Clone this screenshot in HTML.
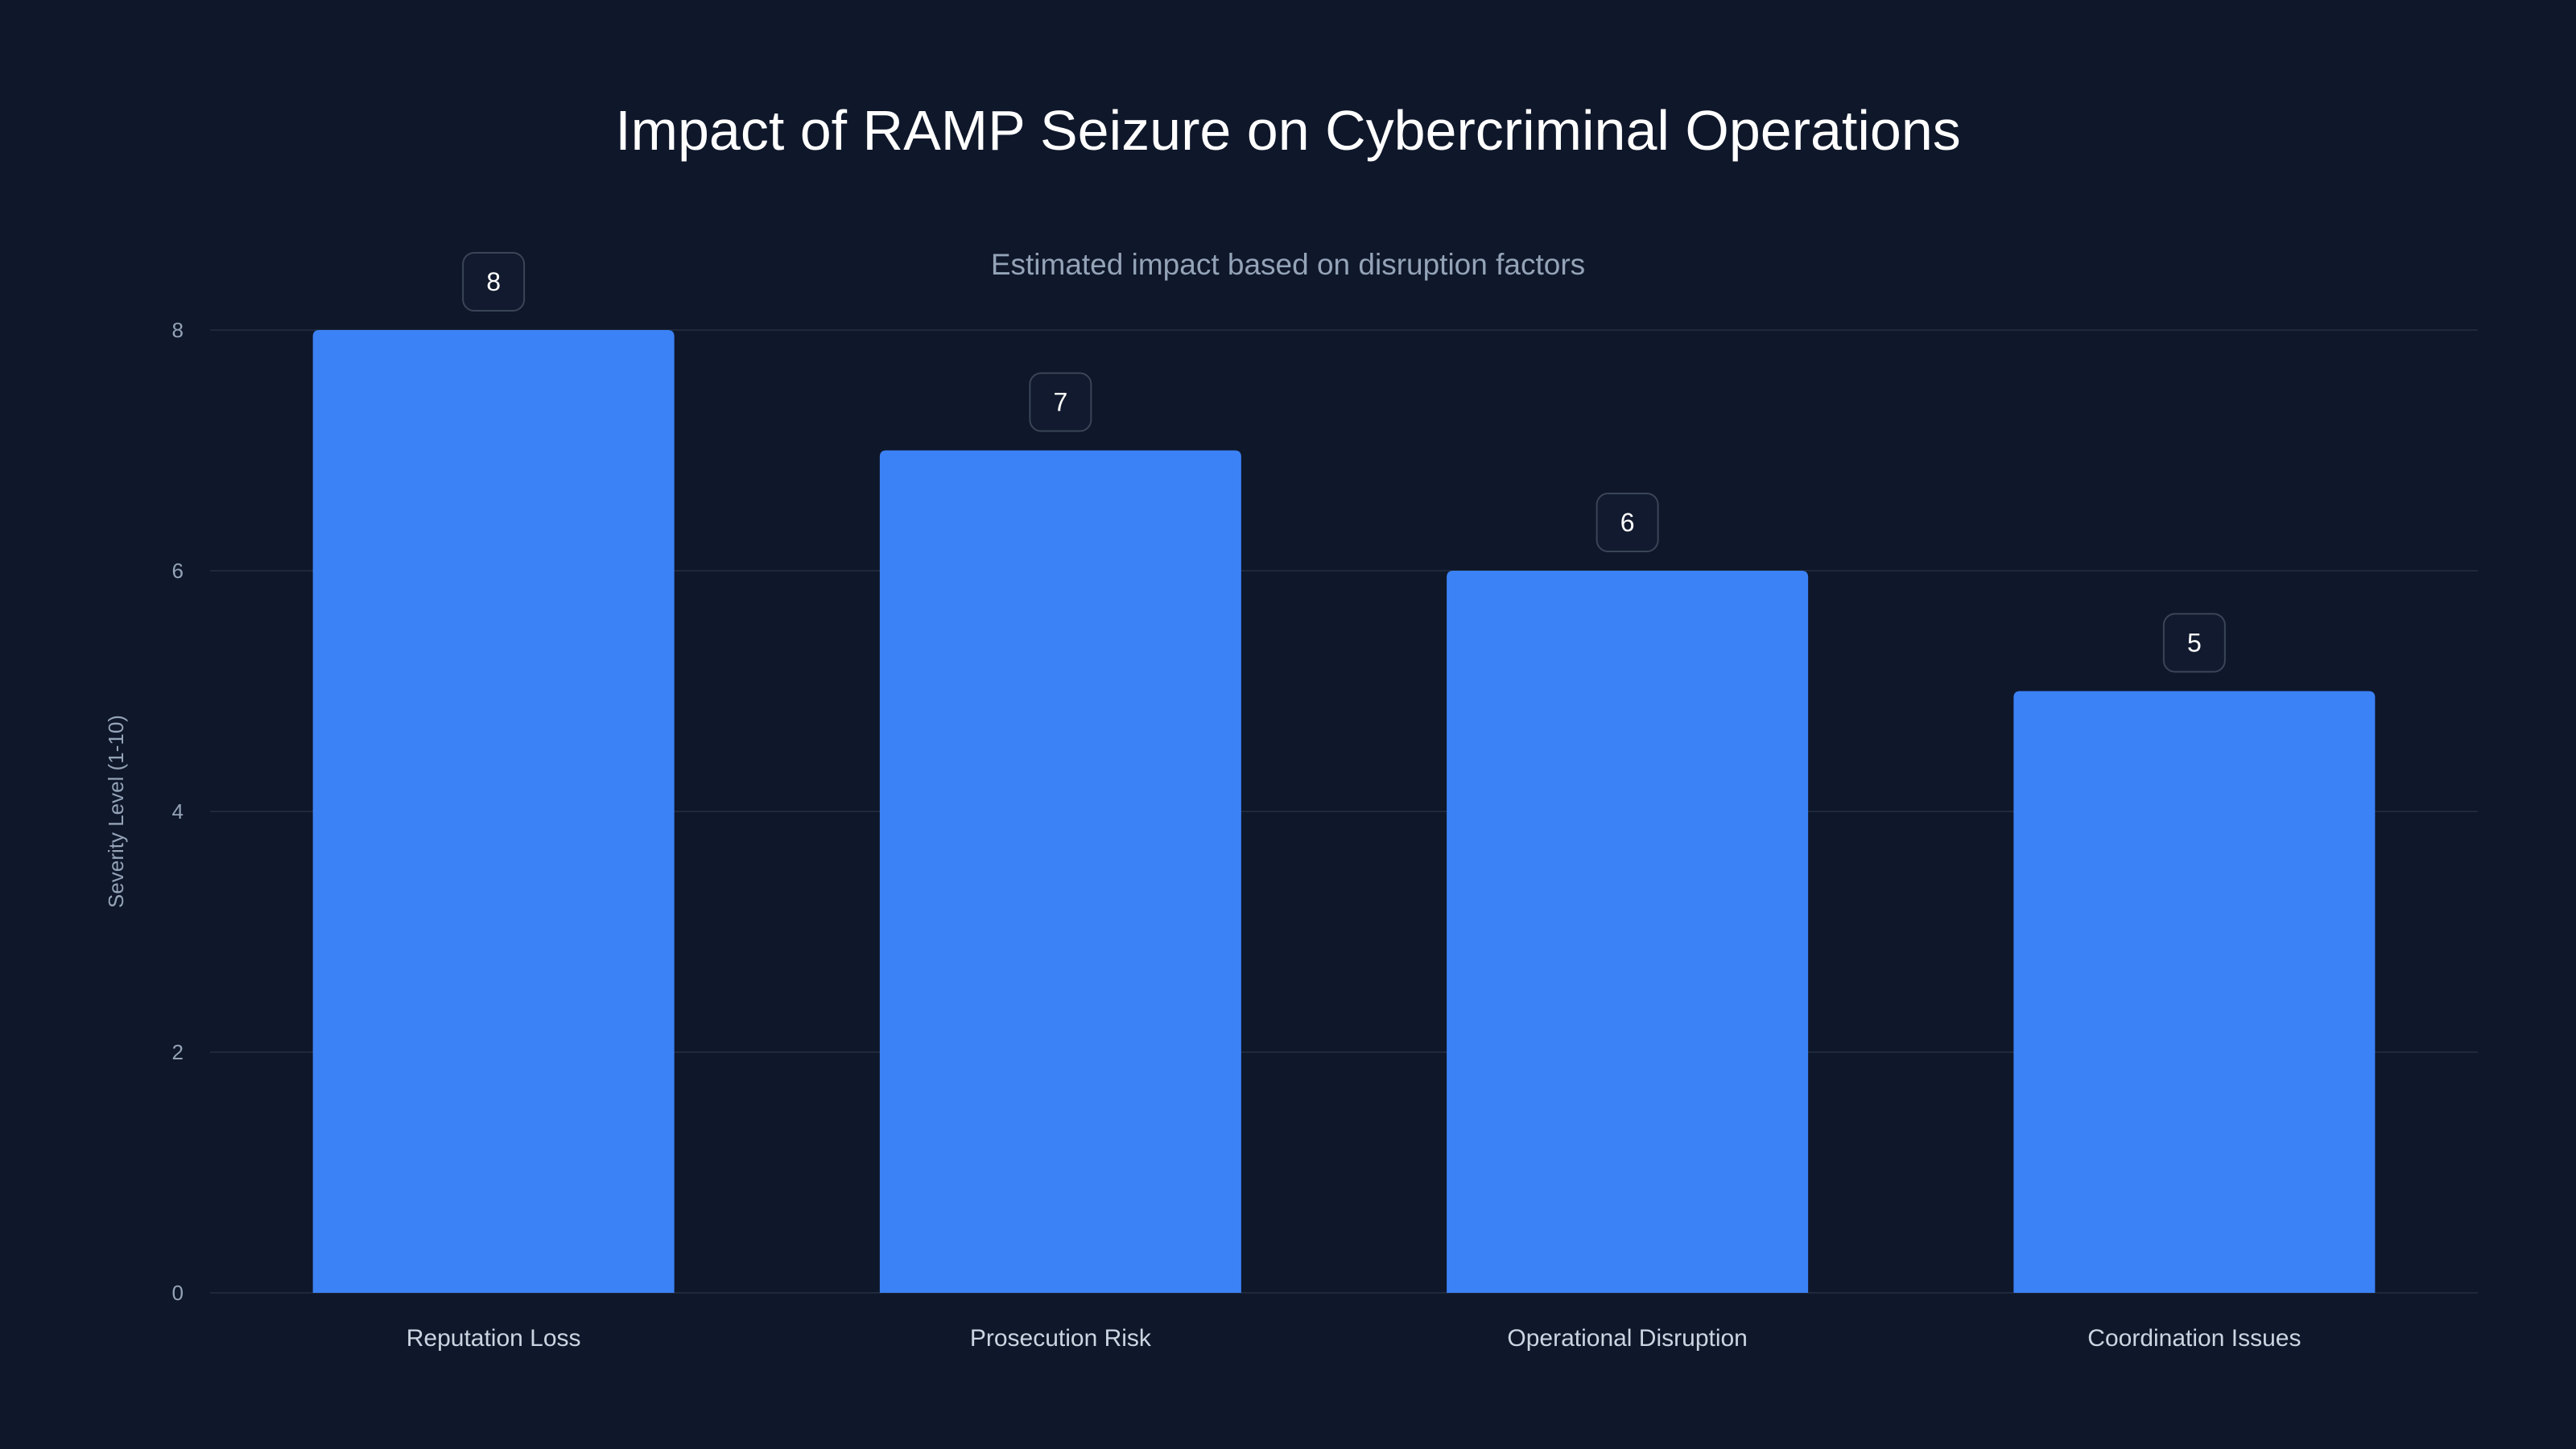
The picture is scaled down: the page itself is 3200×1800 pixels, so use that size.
<!DOCTYPE html>
<html><head><meta charset="utf-8">
<style>
html,body{margin:0;padding:0;background:#0f172a;}
svg{display:block;font-family:"Liberation Sans",sans-serif;}
</style></head>
<body>
<svg id="chart" width="3200" height="1800" viewBox="0 0 3200 1800" xmlns="http://www.w3.org/2000/svg">
<rect width="3200" height="1800" fill="#0f172a"/>
<text x="1600" y="186" text-anchor="middle" fill="#ffffff" font-size="70">Impact of RAMP Seizure on Cybercriminal Operations</text>
<text x="1600" y="341" text-anchor="middle" fill="#94a3b8" font-size="37">Estimated impact based on disruption factors</text>
<text transform="translate(153,1008) rotate(-90)" text-anchor="middle" fill="#94a3b8" font-size="26">Severity Level (1-10)</text>
<g id="grid"></g><g id="bars"></g>
</svg>
<script>
const categories = ["Reputation Loss","Prosecution Risk","Operational Disruption","Coordination Issues"];
const values = [8,7,6,5];
const yTicks = [0,2,4,6,8];

const NS="http://www.w3.org/2000/svg";
const x0=261,x1=3078,yBase=1606,yTop=410,yMax=8;
const band=(x1-x0)/categories.length, bw=449;
const y=v=>yBase-(v/yMax)*(yBase-yTop);
const xc=i=>x0+band*(i+0.5);
function mk(t,a,p){const e=document.createElementNS(NS,t);for(const k in a)e.setAttribute(k,a[k]);p.appendChild(e);return e;}
const grid=document.getElementById('grid'), bars=document.getElementById('bars');
yTicks.forEach(t=>{
  const l=mk('line',{x1:x0,x2:x1,y1:y(t),y2:y(t),stroke:'#1e293b','stroke-width':2},grid);
  
  
  const tx=mk('text',{x:228,y:y(t)+9,'text-anchor':'end',fill:'#94a3b8','font-size':26},grid);
  tx.textContent=t;
  
  
});
categories.forEach((c,i)=>{
  const cx=xc(i), top=y(values[i]);
  const b=mk('path',{d:`M${cx-bw/2},${yBase}V${top+8}Q${cx-bw/2},${top} ${cx-bw/2+8},${top}H${cx+bw/2-8}Q${cx+bw/2},${top} ${cx+bw/2},${top+8}V${yBase}Z`,fill:'#3b82f6'},bars);
  
  
  const r=mk('rect',{x:cx-38,y:top-96,width:76,height:72,rx:14,fill:'#111a2e',stroke:'#3a4558','stroke-width':2},bars);
  
  
  const vt=mk('text',{x:cx,y:top-49,'text-anchor':'middle',fill:'#ffffff','font-size':32},bars);
  vt.textContent=values[i];
  
  
  const lt=mk('text',{x:cx,y:1672,'text-anchor':'middle',fill:'#cbd5e1','font-size':30},bars);
  lt.textContent=c;
  
  
});
</script>
</body></html>
